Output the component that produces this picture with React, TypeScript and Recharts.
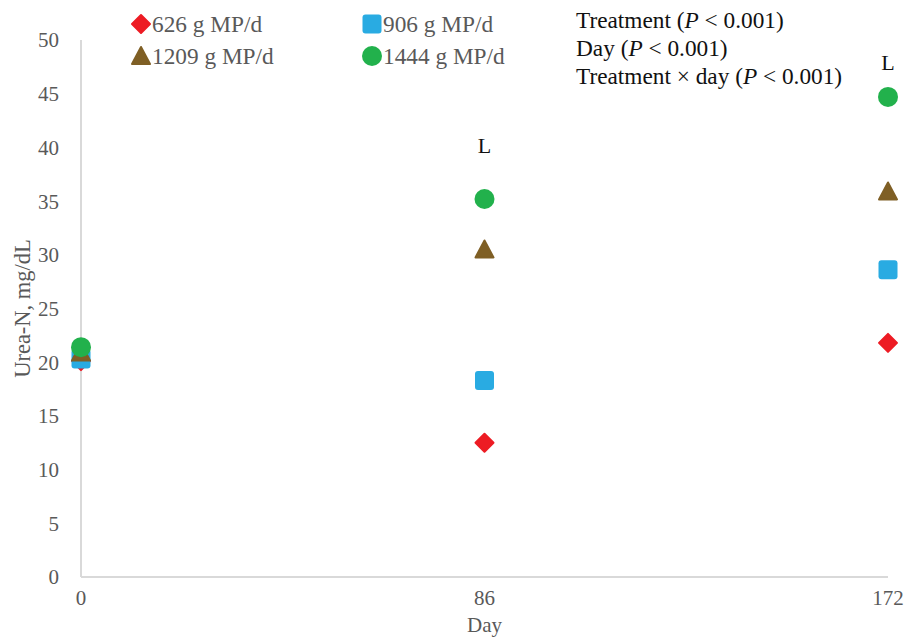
import * as React from 'react';
import { ScatterChart, Scatter, XAxis, YAxis, ReferenceDot } from 'recharts';

// day of sampling
const days = [0, 86, 172];

// urea-N, mg/dL per treatment
const mp626 = [20.1, 12.5, 21.8];
const mp906 = [20.3, 18.3, 28.6];
const mp1209 = [20.9, 30.5, 35.9];
const mp1444 = [21.4, 35.2, 44.7];

const seriesNames = ['626 g MP/d', '906 g MP/d', '1209 g MP/d', '1444 g MP/d'];
const seriesColors = ['#ED1C24', '#29ABE2', '#7F5F25', '#22B14C'];
const seriesShapes = ['diamond', 'square', 'triangle', 'circle'];

const xTicks = [0, 86, 172];
const yTicks = [0, 5, 10, 15, 20, 25, 30, 35, 40, 45, 50];

// significance letters above the points
const letterDays = [86, 172];
const letterValues = [40.2, 47.9];
const letterText = ['L', 'L'];

const FONT = '"Liberation Serif", "Times New Roman", serif';
const GREY_TEXT = '#595959';
const AXIS_LINE = '#D9D9D9';

const toPoints = (values: number[]) => days.map((d, i) => ({ day: d, value: values[i] }));
const seriesValues = [mp626, mp906, mp1209, mp1444];

const Marker = ({ kind, cx, cy, color, s = 10 }: { kind: string; cx: number; cy: number; color: string; s?: number }) => {
  if (kind === 'diamond') {
    const h = s - 1;
    return (
      <polygon
        points={`${cx},${cy - h} ${cx + h},${cy} ${cx},${cy + h} ${cx - h},${cy}`}
        fill={color}
        stroke={color}
        strokeWidth={2}
        strokeLinejoin="round"
      />
    );
  }
  if (kind === 'square') {
    return <rect x={cx - s + 0.5} y={cy - s + 0.5} width={2 * s - 1} height={2 * s - 1} rx={3} fill={color} />;
  }
  if (kind === 'triangle') {
    const h = s - 1;
    return (
      <polygon
        points={`${cx},${cy - h} ${cx + h},${cy + h - 1} ${cx - h},${cy + h - 1}`}
        fill={color}
        stroke={color}
        strokeWidth={2}
        strokeLinejoin="round"
      />
    );
  }
  return <circle cx={cx} cy={cy} r={s} fill={color} />;
};

// legend item centres (marker) in pixels
const legendPos = [
  { x: 141, y: 24 },
  { x: 372, y: 24 },
  { x: 141, y: 56 },
  { x: 372, y: 56 }
];

const LegendBox = () => (
  <>
    {seriesNames.map((name, i) => (
      <React.Fragment key={name}>
        <svg
          width={22}
          height={22}
          style={{ position: 'absolute', left: legendPos[i].x - 11, top: legendPos[i].y - 11, display: 'block' }}
        >
          <Marker kind={seriesShapes[i]} cx={11} cy={11} color={seriesColors[i]} s={10} />
        </svg>
        <span
          style={{
            position: 'absolute',
            left: legendPos[i].x + 11,
            top: legendPos[i].y - 14,
            fontFamily: FONT,
            fontSize: 23.3,
            lineHeight: '28px',
            color: GREY_TEXT,
            whiteSpace: 'nowrap'
          }}
        >
          {name}
        </span>
      </React.Fragment>
    ))}
  </>
);

const StatsText = () => (
  <div
    style={{
      position: 'absolute',
      left: 576,
      top: 6,
      fontFamily: FONT,
      fontSize: 23.3,
      lineHeight: '28px',
      color: '#111',
      whiteSpace: 'nowrap'
    }}
  >
    <div>Treatment (<i>P</i> &lt; 0.001)</div>
    <div>Day (<i>P</i> &lt; 0.001)</div>
    <div>Treatment × day (<i>P</i> &lt; 0.001)</div>
  </div>
);

export default function App() {
  return (
    <div style={{ position: 'absolute', left: 0, top: 0, width: 905, height: 637, background: '#fff' }}>
      <ScatterChart width={905} height={637} margin={{ top: 40, right: 17, bottom: 0, left: 0 }}>
        <XAxis
          type="number"
          dataKey="day"
          domain={[0, 172]}
          ticks={xTicks}
          interval={0}
          tickLine={false}
          tickSize={0}
          tickMargin={13}
          height={60}
          axisLine={{ stroke: AXIS_LINE, strokeWidth: 2 }}
          tick={{ fill: GREY_TEXT, fontSize: 21, fontFamily: FONT }}
          label={{ value: 'Day', position: 'insideBottom', offset: 5, fill: GREY_TEXT, fontSize: 21, fontFamily: FONT }}
        />
        <YAxis
          type="number"
          dataKey="value"
          domain={[0, 50]}
          ticks={yTicks}
          interval={0}
          tickLine={false}
          tickSize={0}
          tickMargin={22}
          width={81}
          axisLine={{ stroke: AXIS_LINE, strokeWidth: 2 }}
          tick={{ fill: GREY_TEXT, fontSize: 21, fontFamily: FONT }}
          label={{
            value: 'Urea-N, mg/dL',
            angle: -90,
            position: 'insideLeft',
            offset: 22,
            fill: GREY_TEXT,
            fontSize: 22.5,
            fontFamily: FONT,
            style: { textAnchor: 'middle' }
          }}
        />
        {seriesValues.map((vals, i) => (
          <Scatter
            key={seriesNames[i]}
            name={seriesNames[i]}
            data={toPoints(vals)}
            fill={seriesColors[i]}
            isAnimationActive={false}
            shape={(p: any) => <Marker kind={seriesShapes[i]} cx={p.cx} cy={p.cy} color={seriesColors[i]} />}
          />
        ))}
        {letterDays.map((d, i) => (
          <ReferenceDot
            key={`L${d}`}
            x={d}
            y={letterValues[i]}
            r={0}
            fill="none"
            stroke="none"
            label={{ value: letterText[i], position: 'center', fill: '#111', fontSize: 22, fontFamily: FONT }}
          />
        ))}
      </ScatterChart>
      <LegendBox />
      <StatsText />
    </div>
  );
}
